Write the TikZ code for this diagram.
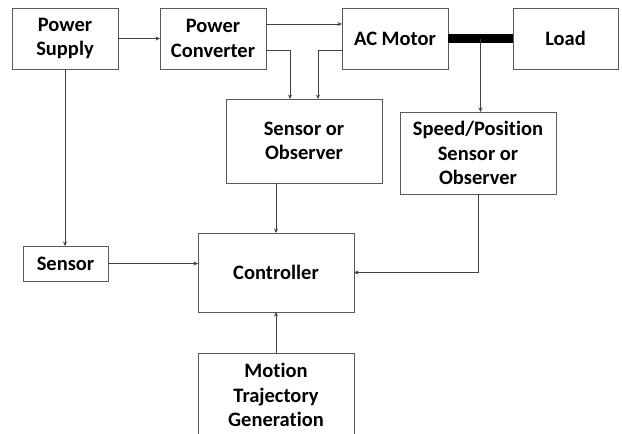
\documentclass[tikz,border=0pt]{standalone}
\usepackage{fontspec}
\setmainfont{Carlito}[Ligatures=NoCommon]
\usetikzlibrary{arrows.meta,positioning}

\begin{document}
\begin{tikzpicture}[x=1pt, y=-1pt, >={Stealth[length=4.5pt,width=4pt]},
  box/.style={draw=black!65, line width=0.8pt, align=center, inner sep=0pt, outer sep=0pt,
    font=\bfseries\fontsize{20.5}{24.5}\selectfont},
  small/.style={box, minimum width=106pt, minimum height=61pt},
  wide/.style={box, minimum width=156pt, minimum height=82pt},
  link/.style={->, draw=black!75, line width=0.7pt}]
  \clip (0,0) rectangle (622,434);
  \node[small] (ps) at (65,38.5) {Power\\Supply};
  \node[small, right=42pt of ps] (pc) {Power\\Converter};
  \node[small, right=76pt of pc] (acm) {AC Motor};
  \node[small, right=65pt of acm, minimum width=105pt] (load) {Load};
  \node[wide, minimum height=84pt] (sob) at (304,141) {Sensor or\\Observer};
  \node[wide] (spd) at (478,153) {Speed/Position\\Sensor or\\Observer};
  \node[box, minimum width=85pt, minimum height=35pt] (sen) at (65.5,263.5) {Sensor};
  \node[wide, minimum height=79pt] (ctl) at (276,272.5) {Controller};
  \node[wide, minimum height=84pt] (mtg) at (276,395) {Motion\\Trajectory\\Generation};
  % shaft between motor and load
  \draw[line width=9pt] (acm.east) -- (load.west);
  \path (acm.east) -- (load.west) coordinate[pos=0.5] (shaft);
  \draw[link] (ps) -- (pc);
  \draw[link] ([yshift=14.5pt]pc.east) -- ([yshift=14.5pt]acm.west);
  \draw[link] ([yshift=-11.5pt]pc.east) -| ([xshift=-14pt]sob.north);
  \draw[link] ([yshift=-11.5pt]acm.west) -| ([xshift=14pt]sob.north);
  \draw[link] (shaft) -- (shaft |- spd.north);
  \draw[link] (ps.south) -- (ps.south |- sen.north);
  \draw[link] (sen.east) -- (sen -| ctl.west);
  \draw[link] (sob.south -| ctl.north) -- (ctl.north);
  \draw[link] (spd.south) |- (ctl.east);
  \draw[link] (mtg) -- (ctl);
\end{tikzpicture}
\end{document}
